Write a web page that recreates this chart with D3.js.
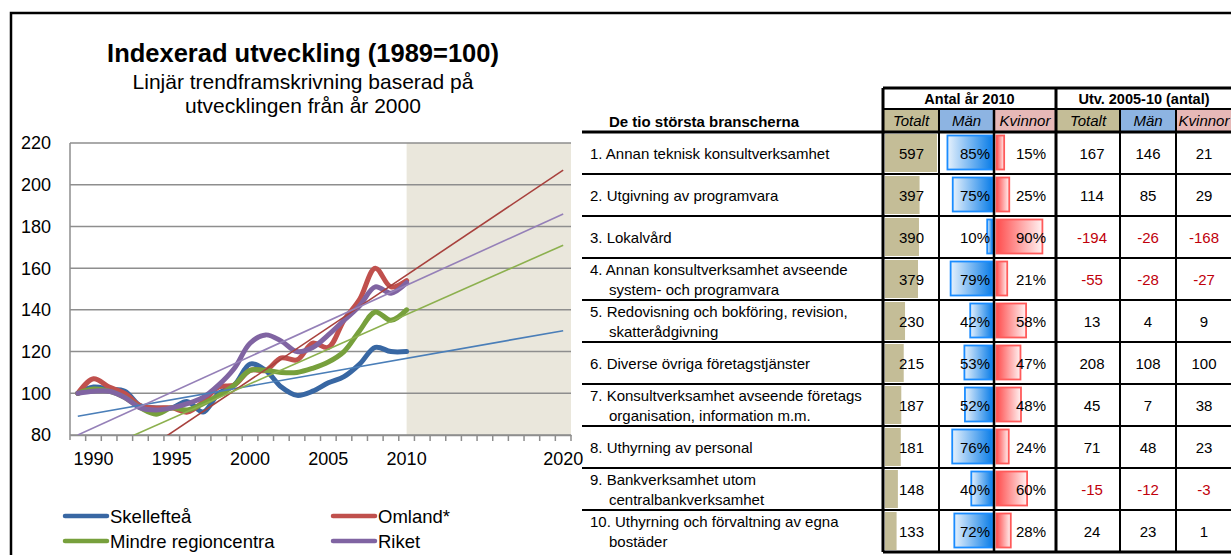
<!DOCTYPE html>
<html>
<head>
<meta charset="utf-8">
<script src="https://cdn.jsdelivr.net/npm/d3@7"></script>
<style>
  body { margin: 0; background: #fff; }
  svg { display: block; font-family: "Liberation Sans", Arial, sans-serif; }
</style>
</head>
<body>
<div id="chart"></div>
<script>
// ---- chart data ----
var axisYears = ["1989","1990","1991","1992","1993","1994","1995","1996","1997","1998","1999",
  "2000","2001","2002","2003","2004","2005","2006","2007","2008","2009","2010",
  "2011","2012","2013","2014","2015","2016","2017","2018","2019","2020"];
var dataYears = ["1989","1990","1991","1992","1993","1994","1995","1996","1997","1998","1999",
  "2000","2001","2002","2003","2004","2005","2006","2007","2008","2009","2010"];
var xLabels = ["1990","1995","2000","2005","2010","2020"];
var yTicks = [80, 100, 120, 140, 160, 180, 200, 220];

var seriesNames = ["Skellefteå", "Omland*", "Mindre regioncentra", "Riket"];
var skelleftea = [100, 103, 102, 101, 94, 93, 93, 96, 91, 100, 104, 114, 111, 103, 99, 101, 105, 108, 114, 122, 120, 120];
var omland     = [100, 107, 103, 100, 94, 93, 93, 91, 96, 103, 104, 111, 111, 117, 116, 124, 122, 135, 145, 160, 151, 154];
var mindre     = [100, 102, 101, 98, 93, 90, 93, 92, 95, 99, 104, 111, 111, 110, 110, 112, 115, 120, 130, 139, 135, 140];
var riket      = [100, 101, 101, 98, 93, 92, 93, 95, 98, 104, 112, 124, 128, 125, 120, 122, 128, 135, 142, 151, 148, 153];
// linear trend (based on 2000-2010), value at 1989 and at 2020
var trendStart = [89, 51, 68, 80];
var trendEnd   = [130, 207, 171, 186];

var lineColors  = ["#3867a3", "#c0504d", "#77a03c", "#8064a2"];
var trendColors = ["#4a7eb8", "#a8413d", "#8cb04e", "#9580b8"];

// ---- table data ----
var branches = [
  ["1. Annan teknisk konsultverksamhet"],
  ["2. Utgivning av programvara"],
  ["3. Lokalvård"],
  ["4. Annan konsultverksamhet avseende", "system- och programvara"],
  ["5. Redovisning och bokföring, revision,", "skatterådgivning"],
  ["6. Diverse övriga företagstjänster"],
  ["7. Konsultverksamhet avseende företags", "organisation, information m.m."],
  ["8. Uthyrning av personal"],
  ["9. Bankverksamhet utom", "centralbankverksamhet"],
  ["10. Uthyrning och förvaltning av egna", "bostäder"]
];
var totals    = [597, 397, 390, 379, 230, 215, 187, 181, 148, 133];
var menPct    = [85, 75, 10, 79, 42, 53, 52, 76, 40, 72];
var womenPct  = [15, 25, 90, 21, 58, 47, 48, 24, 60, 28];
var chgTotal  = [167, 114, -194, -55, 13, 208, 45, 71, -15, 24];
var chgMen    = [146, 85, -26, -28, 4, 108, 7, 48, -12, 23];
var chgWomen  = [21, 29, -168, -27, 9, 100, 38, 23, -3, 1];

var svg = d3.select("#chart").append("svg")
  .attr("width", 1231)
  .attr("height", 555);

var defs = svg.append("defs");
var mg = defs.append("linearGradient").attr("id", "menGrad");
mg.append("stop").attr("offset", "0%").attr("stop-color", "#e6f1fc");
mg.append("stop").attr("offset", "100%").attr("stop-color", "#0a7de8");
var wg = defs.append("linearGradient").attr("id", "womenGrad");
wg.append("stop").attr("offset", "0%").attr("stop-color", "#ff4d4d");
wg.append("stop").attr("offset", "100%").attr("stop-color", "#fff2f2");

// outer frame
svg.append("path")
  .attr("d", "M11,555V13H1231")
  .attr("fill", "none")
  .attr("stroke", "#000")
  .attr("stroke-width", 2.5);

// ---- left chart ----
var plot = { left: 70, right: 571, top: 143, bottom: 435 };

var x = d3.scaleBand()
  .domain(axisYears)
  .range([plot.left, plot.right]);
var cx = function(yr) { return x(yr) + x.bandwidth() / 2; };
var y = d3.scaleLinear()
  .domain([80, 220])
  .range([plot.bottom, plot.top]);

defs.append("clipPath").attr("id", "plotClip")
  .append("rect")
  .attr("x", plot.left).attr("y", plot.top)
  .attr("width", plot.right - plot.left).attr("height", plot.bottom - plot.top);

// Titles
svg.append("text")
  .attr("x", 303).attr("y", 62)
  .attr("text-anchor", "middle")
  .attr("font-size", 25.5).attr("font-weight", "bold")
  .text("Indexerad utveckling (1989=100)");
svg.append("text")
  .attr("x", 303).attr("y", 89)
  .attr("text-anchor", "middle")
  .attr("font-size", 21)
  .text("Linjär trendframskrivning baserad på");
svg.append("text")
  .attr("x", 303).attr("y", 113)
  .attr("text-anchor", "middle")
  .attr("font-size", 21)
  .text("utvecklingen från år 2000");

// forecast area
svg.append("rect")
  .attr("x", cx("2010"))
  .attr("y", plot.top)
  .attr("width", plot.right - cx("2010"))
  .attr("height", plot.bottom - plot.top)
  .attr("fill", "#eae7dc");

// gridlines
svg.append("g")
  .selectAll("line")
  .data(yTicks)
  .enter().append("line")
  .attr("x1", plot.left).attr("x2", plot.right)
  .attr("y1", function(d) { return y(d); })
  .attr("y2", function(d) { return y(d); })
  .attr("stroke", "#8e8e8e")
  .attr("stroke-width", 1.5);

// y axis line and labels
svg.append("line")
  .attr("x1", plot.left).attr("x2", plot.left)
  .attr("y1", plot.top).attr("y2", plot.bottom + 5)
  .attr("stroke", "#8e8e8e").attr("stroke-width", 1.5);
svg.append("g")
  .selectAll("text")
  .data(yTicks)
  .enter().append("text")
  .attr("x", 51)
  .attr("y", function(d) { return y(d); })
  .attr("dy", "0.36em")
  .attr("text-anchor", "end")
  .attr("font-size", 18)
  .text(function(d) { return d; });

// x axis ticks at category boundaries
svg.append("g")
  .selectAll("line")
  .data(axisYears)
  .enter().append("line")
  .attr("x1", function(d) { return x(d) + x.bandwidth(); })
  .attr("x2", function(d) { return x(d) + x.bandwidth(); })
  .attr("y1", plot.bottom).attr("y2", plot.bottom + 6)
  .attr("stroke", "#8e8e8e").attr("stroke-width", 1.5);

var xAxis = svg.append("g")
  .attr("transform", "translate(0," + plot.bottom + ")")
  .call(d3.axisBottom(x).tickValues(xLabels).tickSize(0).tickPadding(17));
xAxis.select(".domain").attr("stroke", "#8e8e8e").attr("stroke-width", 1.5);
xAxis.selectAll("text")
  .attr("font-size", 18)
  .attr("font-family", "Liberation Sans, Arial, sans-serif")
  .attr("fill", "#000");

// series lines
var series = [skelleftea, omland, mindre, riket];
var line = d3.line()
  .x(function(d, i) { return cx(dataYears[i]); })
  .y(function(d) { return y(d); })
  .curve(d3.curveCatmullRom.alpha(0.5));

svg.append("g")
  .selectAll("path")
  .data(series)
  .enter().append("path")
  .attr("d", line)
  .attr("fill", "none")
  .attr("stroke", function(d, i) { return lineColors[i]; })
  .attr("stroke-width", 5)
  .attr("stroke-linejoin", "round")
  .attr("stroke-linecap", "round");

// trend lines
svg.append("g")
  .attr("clip-path", "url(#plotClip)")
  .selectAll("line")
  .data(trendStart)
  .enter().append("line")
  .attr("x1", cx("1989"))
  .attr("y1", function(d) { return y(d); })
  .attr("x2", cx("2020"))
  .attr("y2", function(d, i) { return y(trendEnd[i]); })
  .attr("stroke", function(d, i) { return trendColors[i]; })
  .attr("stroke-width", 1.6);

// legend
var legendPos = [[65, 516], [333, 516], [65, 541], [333, 541]];
var legend = svg.append("g")
  .selectAll("g")
  .data(seriesNames)
  .enter().append("g")
  .attr("transform", function(d, i) { return "translate(" + legendPos[i][0] + "," + legendPos[i][1] + ")"; });
legend.append("line")
  .attr("x1", 0).attr("x2", 42)
  .attr("stroke", function(d, i) { return lineColors[i]; })
  .attr("stroke-width", 4.5)
  .attr("stroke-linecap", "round");
legend.append("text")
  .attr("x", 45)
  .attr("dy", "0.36em")
  .attr("font-size", 18.5)
  .text(function(d) { return d; });

// ---- table ----
var tbl = { labelLeft: 582, left: 883, right: 1232, headTop: 88, subTop: 109, bodyTop: 132, rowH: 42 };
var cols = [883, 939, 994, 1056, 1120, 1176, 1232];
var rowY = function(i) { return tbl.bodyTop + i * tbl.rowH; };

svg.append("text")
  .attr("x", 609).attr("y", 122)
  .attr("dy", "0.36em")
  .attr("font-size", 15).attr("font-weight", "bold")
  .text("De tio största branscherna");

// header backgrounds
var subHeads = ["Totalt", "Män", "Kvinnor", "Totalt", "Män", "Kvinnor"];
var subFill = ["#c4bd97", "#8db4e2", "#e6b8b7", "#c4bd97", "#8db4e2", "#e6b8b7"];
svg.append("g")
  .selectAll("rect")
  .data(subHeads)
  .enter().append("rect")
  .attr("x", function(d, i) { return cols[i]; })
  .attr("y", tbl.subTop)
  .attr("width", function(d, i) { return cols[i + 1] - cols[i]; })
  .attr("height", tbl.bodyTop - tbl.subTop)
  .attr("fill", function(d, i) { return subFill[i]; });
svg.append("g")
  .selectAll("text")
  .data(subHeads)
  .enter().append("text")
  .attr("x", function(d, i) { return (cols[i] + cols[i + 1]) / 2; })
  .attr("y", (tbl.subTop + tbl.bodyTop) / 2)
  .attr("dy", "0.36em")
  .attr("text-anchor", "middle")
  .attr("font-size", 15).attr("font-style", "italic")
  .text(function(d) { return d; });

svg.append("text")
  .attr("x", (cols[0] + cols[3]) / 2).attr("y", 99)
  .attr("dy", "0.36em").attr("text-anchor", "middle")
  .attr("font-size", 14.5).attr("font-weight", "bold")
  .text("Antal år 2010");
svg.append("text")
  .attr("x", 1144).attr("y", 99)
  .attr("dy", "0.36em").attr("text-anchor", "middle")
  .attr("font-size", 14.5).attr("font-weight", "bold")
  .text("Utv. 2005-10 (antal)");

// data bars
var wTot = d3.scaleLinear().domain([0, 597]).range([0, 52]);
var wMen = d3.scaleLinear().domain([0, 100]).range([0, 53]);
var wWom = d3.scaleLinear().domain([0, 100]).range([0, 51]);

var rows = svg.append("g")
  .selectAll("g")
  .data(branches)
  .enter().append("g")
  .attr("transform", function(d, i) { return "translate(0," + rowY(i) + ")"; });

rows.append("rect")
  .attr("x", cols[0] + 2)
  .attr("y", 2)
  .attr("width", function(d, i) { return wTot(totals[i]); })
  .attr("height", tbl.rowH - 4)
  .attr("fill", "#c4bd97");

rows.append("rect")
  .attr("x", function(d, i) { return cols[2] - 1.5 - wMen(menPct[i]); })
  .attr("y", 3.5)
  .attr("width", function(d, i) { return wMen(menPct[i]); })
  .attr("height", tbl.rowH - 8)
  .attr("fill", "url(#menGrad)")
  .attr("stroke", "#1a8cff").attr("stroke-width", 1.8);

rows.append("rect")
  .attr("x", cols[2] + 2.5)
  .attr("y", 3.5)
  .attr("width", function(d, i) { return wWom(womenPct[i]); })
  .attr("height", tbl.rowH - 8)
  .attr("fill", "url(#womenGrad)")
  .attr("stroke", "#ff5a5a").attr("stroke-width", 1.8);

// labels
rows.each(function(d) {
  var g = d3.select(this);
  var ys = d.length === 1 ? [22] : [12, 32];
  d.forEach(function(t, j) {
    g.append("text")
      .attr("x", j === 0 ? 590 : 609)
      .attr("y", ys[j])
      .attr("dy", "0.36em")
      .attr("font-size", 15)
      .text(t);
  });
});

var numText = function(vals, xPos, anchor, fmt) {
  rows.append("text")
    .attr("x", xPos)
    .attr("y", 22)
    .attr("dy", "0.36em")
    .attr("text-anchor", anchor)
    .attr("font-size", 15)
    .attr("fill", function(d, i) { return vals[i] < 0 ? "#c0000b" : "#000"; })
    .text(function(d, i) { return fmt ? fmt(vals[i]) : vals[i]; });
};
numText(totals, 924, "end");
numText(menPct, 990, "end", function(v) { return v + "%"; });
numText(womenPct, 1046, "end", function(v) { return v + "%"; });
numText(chgTotal, 1092, "middle");
numText(chgMen, 1148, "middle");
numText(chgWomen, 1204, "middle");

// grid lines of table
var hLines = [
  [tbl.left, tbl.right, tbl.headTop, 3],
  [tbl.left, tbl.right, tbl.subTop, 2],
  [tbl.labelLeft, tbl.right, tbl.bodyTop, 3]
];
d3.range(1, 10).forEach(function(i) { hLines.push([tbl.labelLeft, tbl.right, rowY(i), 2]); });
hLines.push([tbl.left, tbl.right, rowY(10), 3]);
svg.append("g")
  .selectAll("line")
  .data(hLines)
  .enter().append("line")
  .attr("x1", function(d) { return d[0]; })
  .attr("x2", function(d) { return d[1]; })
  .attr("y1", function(d) { return d[2]; })
  .attr("y2", function(d) { return d[2]; })
  .attr("stroke", "#000")
  .attr("stroke-width", function(d) { return d[3]; });

var vLines = [
  [cols[0], tbl.headTop, 3], [cols[1], tbl.subTop, 2], [cols[2], tbl.subTop, 2.5],
  [cols[3], tbl.headTop, 3], [cols[4], tbl.subTop, 2], [cols[5], tbl.subTop, 2]
];
svg.append("g")
  .selectAll("line")
  .data(vLines)
  .enter().append("line")
  .attr("x1", function(d) { return d[0]; })
  .attr("x2", function(d) { return d[0]; })
  .attr("y1", function(d) { return d[1]; })
  .attr("y2", rowY(10))
  .attr("stroke", "#000")
  .attr("stroke-width", function(d) { return d[2]; });
</script>
</body>
</html>
